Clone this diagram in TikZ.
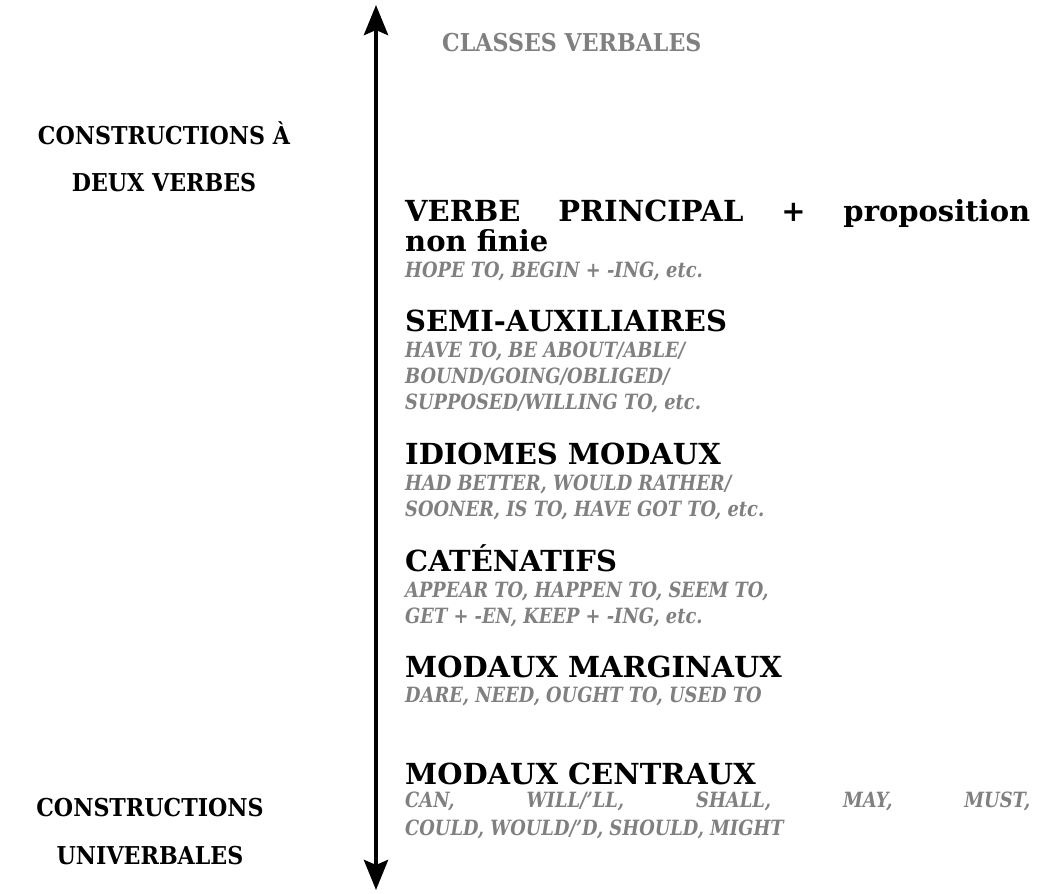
\documentclass[tikz,border=0pt]{standalone}
\usepackage{fontspec}
\setmainfont{DejaVu Serif}
\newfontfamily\etroite{DejaVu Serif}[FakeStretch=0.9]
\newfontfamily\serree{DejaVu Serif}[FakeStretch=0.85]
\usetikzlibrary{arrows.meta}
\definecolor{exgray}{RGB}{128,128,128}
\tikzset{
  classe/.style={anchor=base west, inner sep=0pt, font=\bfseries\fontsize{29}{34}\selectfont},
  exemple/.style={anchor=base west, inner sep=0pt, text=exgray, font=\serree\bfseries\itshape\fontsize{21}{26}\selectfont},
  cote/.style={anchor=base, inner sep=0pt, font=\etroite\bfseries\fontsize{24.6}{28}\selectfont},
}
\begin{document}
\begin{tikzpicture}[x=1pt,y=-1pt]
\useasboundingbox (0,0) rectangle (1039,894);
% axe vertical
\coordinate (haut) at (376,5);
\coordinate (bas) at (376,890);
\draw[{Stealth[length=30pt,width=24pt,inset=5pt]}-{Stealth[length=30pt,width=24pt,inset=5pt]}, line width=4.5pt] (haut) -- (bas);
% titre
\node[cote, anchor=base west, text=exgray] (titre) at (442,51) {CLASSES VERBALES};
% gauche
\node[cote] (deux1) at (164,144) {CONSTRUCTIONS À};
\node[cote] (deux2) at (164,191) {DEUX VERBES};
\node[cote] (uni1) at (150,816) {CONSTRUCTIONS};
\node[cote] (uni2) at (150,864) {UNIVERBALES};
% classes
\node[classe] (principal) at (405,221) {\makebox[625pt][s]{VERBE PRINCIPAL + proposition}};
\node[classe] (principal2) at (405,251) {non finie};
\node[exemple] (principalex) at (405,277) {HOPE TO, BEGIN + -ING, etc.};
\node[classe] (semi) at (405,331) {SEMI-AUXILIAIRES};
\node[exemple] (semiex1) at (405,357) {HAVE TO, BE ABOUT/ABLE/};
\node[exemple] (semiex2) at (405,383) {BOUND/GOING/OBLIGED/};
\node[exemple] (semiex3) at (405,409) {SUPPOSED/WILLING TO, etc.};
\node[classe] (idiome) at (405,464) {IDIOMES MODAUX};
\node[exemple] (idiomeex1) at (405,490) {HAD BETTER, WOULD RATHER/};
\node[exemple] (idiomeex2) at (405,516) {SOONER, IS TO, HAVE GOT TO, etc.};
\node[classe] (catenatif) at (405,571) {CATÉNATIFS};
\node[exemple] (catenatifex1) at (405,597) {APPEAR TO, HAPPEN TO, SEEM TO,};
\node[exemple] (catenatifex2) at (405,623) {GET + -EN, KEEP + -ING, etc.};
\node[classe] (marginal) at (405,677) {MODAUX MARGINAUX};
\node[exemple] (marginalex) at (405,702) {DARE, NEED, OUGHT TO, USED TO};
\node[classe] (central) at (405,784) {MODAUX CENTRAUX};
\node[exemple] (centralex1) at (405,807) {\makebox[625pt][s]{CAN, WILL/’LL, SHALL, MAY, MUST,}};
\node[exemple] (centralex2) at (405,835) {COULD, WOULD/’D, SHOULD, MIGHT};
\end{tikzpicture}
\end{document}
